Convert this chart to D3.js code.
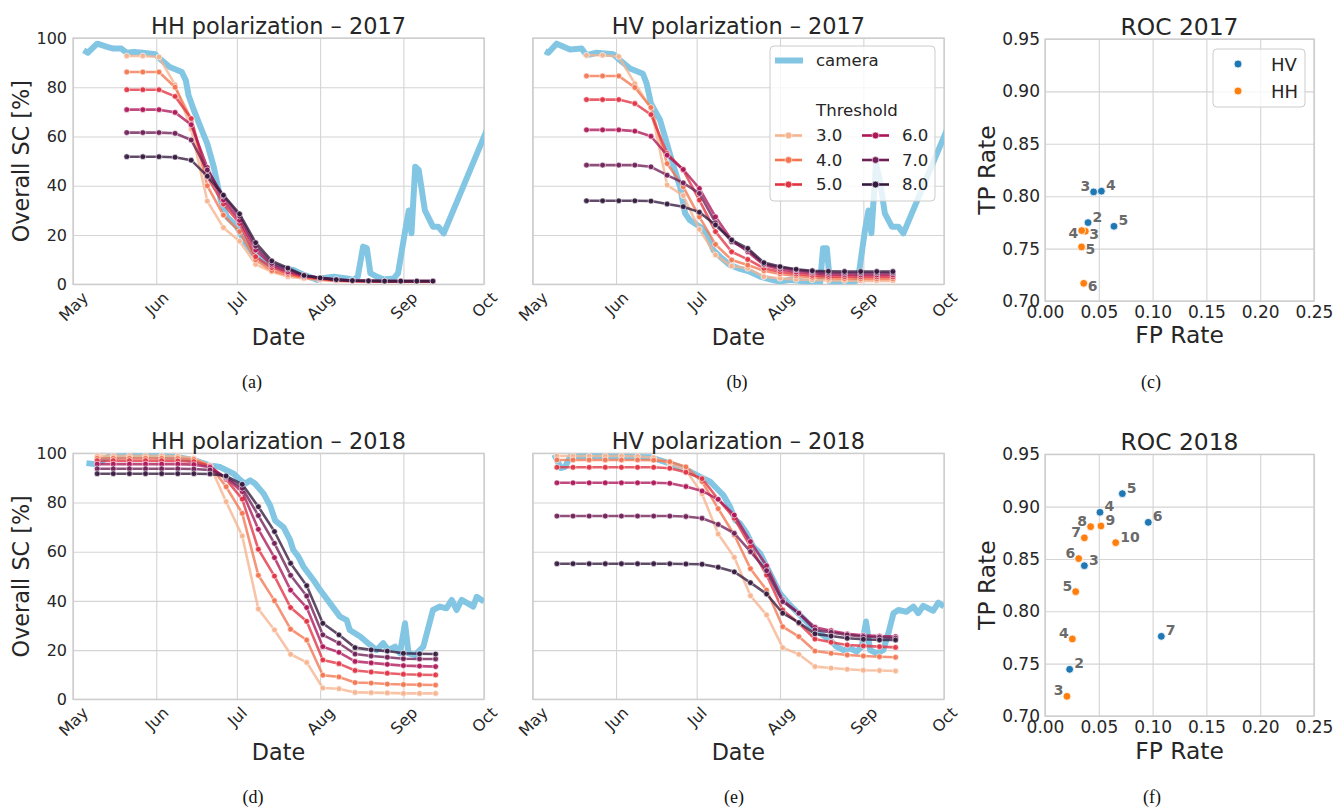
<!DOCTYPE html>
<html><head><meta charset="utf-8">
<script src="https://cdn.jsdelivr.net/npm/d3@7"></script>
<style>body{margin:0;background:#fff}</style>
</head><body><svg id="c" width="1336" height="808"></svg>
<script>
// ---------------- DATA ----------------
const threshLabels = ["3.0","4.0","5.0","6.0","7.0","8.0"];
const threshColors = ["#f6b48f","#f37651","#e13342","#ad1759","#701f57","#35193e"];
const monthTicks = ["May","Jun","Jul","Aug","Sep","Oct"];
const scTicks = [0,20,40,60,80,100];
const rocTicksX = [0,0.05,0.10,0.15,0.20,0.25];
const rocTicksY = [0.70,0.75,0.80,0.85,0.90,0.95];

const dates2017 = ["2017-05-21","2017-05-27","2017-06-02","2017-06-08","2017-06-14","2017-06-20","2017-06-26","2017-07-02","2017-07-08","2017-07-14","2017-07-20","2017-07-26","2017-08-01","2017-08-07","2017-08-13","2017-08-19","2017-08-25","2017-08-31","2017-09-06","2017-09-12"];
const dates2018 = ["2018-05-10","2018-05-16","2018-05-22","2018-05-28","2018-06-03","2018-06-09","2018-06-15","2018-06-21","2018-06-27","2018-07-03","2018-07-09","2018-07-15","2018-07-21","2018-07-27","2018-08-02","2018-08-08","2018-08-14","2018-08-20","2018-08-26","2018-09-01","2018-09-07","2018-09-13"];

// rows: thresholds 3.0 .. 8.0
const hh2017 = [
 [92.7,92.7,92.3,81.0,63.0,33.8,23.0,17.5,8.1,5.1,3.1,2.4,1.8,1.3,1.2,1.1,1.0,1.0,1.0,1.0],
 [86.2,86.2,86.2,80.0,67.0,40.0,28.1,21.4,9.9,5.5,3.8,2.7,2.0,1.5,1.3,1.2,1.1,1.1,1.1,1.1],
 [79.0,79.0,79.0,76.3,67.3,43.6,32.6,24.7,11.2,6.8,4.5,3.1,2.3,1.6,1.4,1.3,1.2,1.2,1.2,1.2],
 [70.9,70.9,70.9,69.8,64.8,47.4,34.2,26.0,13.9,7.8,5.1,3.5,2.6,1.8,1.5,1.4,1.3,1.3,1.3,1.3],
 [61.6,61.6,61.6,61.3,58.6,46.4,35.8,27.7,15.5,8.5,6.1,3.6,2.6,1.9,1.5,1.4,1.3,1.3,1.3,1.3],
 [51.8,51.8,51.8,51.6,50.4,43.9,36.2,28.6,16.9,9.5,6.6,3.6,2.6,1.9,1.5,1.4,1.3,1.3,1.3,1.3]
];
const hv2017 = [
 [93.0,93.0,92.5,81.5,71.5,40.3,36.0,22.3,11.9,7.4,6.5,3.1,2.4,2.0,1.8,1.6,1.5,1.4,1.4,1.4],
 [84.6,84.6,84.6,79.9,71.8,49.0,39.6,27.4,16.2,9.9,7.8,5.5,4.2,3.4,2.8,2.5,2.3,2.2,2.2,2.2],
 [75.0,75.0,75.0,73.4,68.9,53.1,46.4,34.2,21.4,13.2,10.1,6.5,5.1,4.2,3.6,3.2,3.1,3.0,3.0,3.0],
 [62.7,62.7,62.7,62.2,60.1,52.4,46.6,38.9,27.4,18.0,13.2,7.8,6.1,5.0,4.5,4.0,3.9,3.8,3.8,3.8],
 [48.4,48.4,48.4,48.4,47.7,44.3,41.2,36.9,25.0,17.3,13.9,8.2,6.9,5.8,5.1,4.7,4.6,4.6,4.6,4.6],
 [33.9,33.9,33.9,33.9,33.8,32.6,31.5,29.3,24.1,18.0,14.6,8.8,7.2,6.1,5.5,5.3,5.2,5.2,5.2,5.2]
];
const hh2018 = [
 [99.0,99.0,99.0,99.0,99.0,98.8,98.0,95.1,80.3,66.4,36.7,28.2,18.3,15.0,4.6,4.3,2.8,2.7,2.6,2.4,2.4,2.4],
 [98.0,98.0,98.0,98.0,98.0,97.9,97.5,95.0,86.4,75.6,50.4,40.1,28.5,24.1,9.8,9.1,6.8,6.6,6.2,6.0,5.9,5.8],
 [97.0,97.0,97.0,97.0,97.0,96.9,96.6,94.8,89.4,81.4,61.0,50.1,37.3,31.7,16.0,14.5,11.7,11.1,10.6,10.2,10.0,9.9],
 [95.6,95.6,95.6,95.6,95.6,95.6,95.4,94.3,90.0,84.4,69.1,57.6,44.4,37.3,21.4,19.1,15.4,14.8,14.2,13.7,13.5,13.3],
 [93.7,93.7,93.7,93.7,93.7,93.7,93.6,93.2,90.4,85.8,74.7,63.4,50.4,42.0,26.2,22.8,18.4,17.6,17.1,16.5,16.4,16.4],
 [91.7,91.7,91.7,91.7,91.7,91.7,91.7,91.6,90.8,87.4,78.3,68.2,55.3,46.2,30.9,26.2,21.0,20.1,19.6,18.7,18.5,18.4]
];
const hv2018 = [
 [98.9,98.9,98.9,98.9,98.9,98.8,98.2,95.9,93.2,83.5,67.2,57.7,42.1,34.3,21.0,18.3,13.3,12.7,12.2,11.8,11.7,11.5],
 [97.3,97.3,97.3,97.3,97.3,97.3,97.2,96.6,94.5,88.5,77.5,66.8,53.1,44.4,29.5,25.5,19.6,18.7,18.0,17.6,17.3,17.1],
 [94.3,94.3,94.3,94.3,94.3,94.3,94.3,93.9,92.3,89.7,81.3,73.6,62.1,50.5,36.3,30.9,24.5,23.2,22.1,21.7,21.4,21.1],
 [88.0,88.0,88.0,88.0,88.0,88.0,88.0,87.8,86.5,84.7,81.3,74.9,64.1,54.3,40.4,35.0,29.3,27.9,26.6,26.0,25.7,25.5],
 [74.5,74.5,74.5,74.5,74.5,74.5,74.5,74.5,74.3,73.6,71.1,67.5,60.0,52.3,39.7,35.0,28.2,27.2,26.2,25.5,25.2,24.9],
 [55.1,55.1,55.1,55.1,55.1,55.1,55.1,55.1,55.0,54.9,53.7,51.8,47.4,42.8,35.0,31.2,26.6,25.7,24.8,24.4,24.1,24.1]
];

// camera series: days after 1 May, snow cover %
const camHH2017Days = [4,5.5,9,12.7,15,18,20,22.6,26,30.6,33,36,40.5,42,43,45,47.4,50,52.4,55,57.3,61,63.5,67,72,78,82,86,91,92,97,102,104.5,106,108,109.4,110.7,113,115.6,119.4,121,123.7,125,126,127.4,128.7,131,134,136,138,154];
const camHH2017Vals = [95,94,97.7,96.4,95.7,95.7,94,94.3,94,93.4,91,88.2,86.2,82.8,76.8,70.7,64,57,47.7,34.2,27.4,23.4,18,12.6,8.5,6.5,5.8,3.8,1.8,2.4,3.1,2.4,1.8,3.1,15.3,14.6,4.5,3.1,2,2.4,4.5,22,30,20.7,47.7,46.4,30,23.4,23.4,20.7,62.5];
const camHV2017Days = [4.6,5.8,8.9,13.9,18.2,20,23.8,30,32.5,36.2,41,42.4,44,47.4,49.2,51.7,54.8,56.7,58.5,62.2,64.7,67.2,69.7,73.4,76.5,80.8,84.6,88.3,92,95.7,99.4,103,106.9,108,109.4,110.6,114,118,121,123.6,124.9,126,127.7,129.2,131,133.6,136,137.9,154];
const camHV2017Vals = [94.7,94,97.7,95.3,95.7,93,94,93.4,91,87.6,85.5,81.5,73.4,66.6,59.9,50.4,39.6,28.8,26,23.4,20.7,13.9,11.2,7.8,6.5,5.1,3.1,2,1.1,1.8,1.4,0.7,0.4,14.6,14.6,0.4,0.4,0.4,1.8,22,30,20.7,49,42,28.8,23.4,23.4,20.7,62.5];
const camHH2018Days = [5,9,13,20,30,38.7,45,51,54.8,57.3,59.8,62.2,64,66,67.8,71,73.4,75.3,78.4,80.8,82,83.9,85.8,89.5,92,95.7,99.4,101.9,103,106.9,110.6,113,115.5,117.4,119.9,121.7,123.6,124.9,127.3,130.4,134,136.6,139,141,142.8,144.7,149,150.3,153];
const camHH2018Vals = [96,95.5,98.5,99,99,98.5,97.2,95.1,94.4,93,91.7,89.2,87.6,89,87.6,83.5,78.7,72.6,69.9,64.8,60.7,58,53.9,48.5,44.4,39,33.6,32.2,28.2,25.5,22.1,20,22.8,20,21.4,18.7,30.9,18.7,18,21.4,36.3,37.7,37,40.4,36.3,40.4,37.7,41.7,39.7];
const camHV2018Days = [8,10.5,12,14,21.3,33.7,43.6,51,57.3,62.2,64.7,66,68.4,70.9,73.4,75.3,77.1,79.6,82,84.6,87,89.5,92,95.7,99.4,103,106.9,110.6,113,115.6,118,120.5,122.4,124,125.5,128,130.4,132.3,134.2,136,139,141.6,143.4,145.3,149,150.9,153];
const camHV2018Vals = [99.5,94,94.5,98.6,98.9,98.6,98.4,95.9,93.2,90.5,89.2,88.5,85.8,83,78.3,72.9,71.5,67.5,62.1,59.3,54,48.5,43,38.3,34.3,30.2,26.8,24.1,21.4,20,20.7,19.4,21.4,31.6,20,18.7,20,26.8,35,36.3,35.6,37.7,35,38,36,39.3,37.7];

// ROC points
const roc2017HVThr = ["2","3","4","5"];
const roc2017HVFp = [0.040,0.0452,0.0524,0.0641];
const roc2017HVTp = [0.7748,0.8041,0.8048,0.7713];
const roc2017HVSide = ["ur","ul","ur","ur"];
const roc2017HHThr = ["3","4","5","6"];
const roc2017HHFp = [0.0375,0.0341,0.034,0.036];
const roc2017HHTp = [0.7666,0.7672,0.7516,0.7169];
const roc2017HHSide = ["lr","ll","lr","lr"];

const roc2018HVThr = ["2","3","4","5","6","7"];
const roc2018HVFp = [0.0229,0.0366,0.0511,0.0719,0.096,0.1081];
const roc2018HVTp = [0.7446,0.8436,0.8946,0.9124,0.885,0.7761];
const roc2018HVSide = ["ur","ur","ur","ur","ur","ur"];
const roc2018HHThr = ["3","4","5","6","7","8","9","10"];
const roc2018HHFp = [0.0204,0.0254,0.0285,0.0313,0.0366,0.0424,0.052,0.0657];
const roc2018HHTp = [0.7188,0.7736,0.8188,0.8504,0.8702,0.8809,0.8815,0.8656];
const roc2018HHSide = ["ul","ul","ul","ul","ul","ul","ur","ur"];

// ---------------- DRAWING ----------------
const FONT = '"DejaVu Sans", Verdana, sans-serif';
const TXT = '#262626';
const GRID = '#d4d4d4';
const CAM = '#82c6e3';
const svg = d3.select('#c');
let clipId = 0;

function txt(g, x, y, s, size, opts = {}) {
  const t = g.append('text').attr('x', x).attr('y', y).text(s)
    .attr('font-family', opts.family || FONT).attr('font-size', size)
    .attr('fill', opts.fill || TXT).attr('text-anchor', opts.anchor || 'middle');
  if (opts.weight) t.attr('font-weight', opts.weight);
  if (opts.rotate) t.attr('transform', `rotate(${opts.rotate},${x},${y})`);
  if (opts.baseline) t.attr('dominant-baseline', opts.baseline);
  return t;
}

function styleAxis(a, fs) {
  a.select('.domain').remove();
  a.attr('font-family', FONT).attr('font-size', fs);
  a.selectAll('line').attr('stroke', GRID).attr('stroke-width', 1.1);
  a.selectAll('text').attr('fill', TXT);
}

function linePanel(o) {
  const {x0, x1, y0, y1, year} = o;
  const g = svg.append('g');
  const parse = d3.utcParse('%Y-%m-%d');
  const start = Date.UTC(year, 4, 1);
  const x = d3.scaleUtc().domain([new Date(start), new Date(Date.UTC(year, 9, 1))]).range([x0, x1]);
  const y = d3.scaleLinear().domain([0, 100]).range([y1, y0]);
  const monthDates = monthTicks.map((m, i) => new Date(Date.UTC(year, 4 + i, 1)));

  const ya = g.append('g').attr('transform', `translate(${x0},0)`)
    .call(d3.axisLeft(y).tickValues(scTicks).tickSize(-(x1 - x0)).tickPadding(6)
      .tickFormat(o.showY ? d3.format('d') : () => ''));
  styleAxis(ya, 16);

  const xa = g.append('g').attr('transform', `translate(0,${y1})`)
    .call(d3.axisBottom(x).tickValues(monthDates).tickSize(-(y1 - y0)).tickPadding(0)
      .tickFormat((d, i) => monthTicks[i]));
  styleAxis(xa, 16);
  xa.selectAll('text').attr('text-anchor', 'middle').attr('dy', '0.35em').attr('y', 0)
    .each(function () {
      const w = this.getComputedTextLength();
      const off = 6 + (w + 13) * 0.7071 / 2;
      d3.select(this).attr('transform', `translate(0,${off}) rotate(-45)`);
    });

  g.append('rect').attr('x', x0).attr('y', y0).attr('width', x1 - x0).attr('height', y1 - y0)
    .attr('fill', 'none').attr('stroke', '#cccccc').attr('stroke-width', 1.3);

  const cid = 'clip' + (clipId++);
  g.append('clipPath').attr('id', cid).append('rect')
    .attr('x', x0).attr('y', y0).attr('width', x1 - x0).attr('height', y1 - y0);
  const pg = g.append('g').attr('clip-path', `url(#${cid})`);

  const camLine = d3.line()
    .x((d, i) => x(new Date(start + o.camDays[i] * 864e5)))
    .y(d => y(d));
  pg.append('path').attr('d', camLine(o.camVals)).attr('fill', 'none')
    .attr('stroke', CAM).attr('stroke-width', 6).attr('stroke-linejoin', 'round');

  const ds = o.dates.map(parse);
  const ln = d3.line().x((d, i) => x(ds[i])).y(d => y(d));
  o.series.forEach((vals, k) => {
    const sg = pg.append('g');
    sg.append('path').attr('d', ln(vals)).attr('fill', 'none')
      .attr('stroke', threshColors[k]).attr('stroke-width', 2.6).attr('stroke-opacity', 0.78)
      .attr('stroke-linejoin', 'round');
    sg.selectAll('circle').data(vals).join('circle')
      .attr('cx', (d, i) => x(ds[i])).attr('cy', d => y(d)).attr('r', 2.9)
      .attr('fill', threshColors[k]).attr('stroke', '#fff').attr('stroke-width', 0.6)
      .attr('fill-opacity', 0.9);
  });

  txt(g, (x0 + x1) / 2, y0 - 4, o.title, 22.4);
  txt(g, (x0 + x1) / 2, y1 + 61, 'Date', 22.3);
  if (o.showY) txt(g, 29, (y0 + y1) / 2, 'Overall SC [%]', 22.3, {rotate: -90});
  txt(g, o.capX, o.capY, o.caption, 18, {family: '"Liberation Serif", "Times New Roman", serif', fill: '#111'});

  if (o.legend) {
    const L = g.append('g');
    L.append('rect').attr('x', 770).attr('y', 46).attr('width', 165).attr('height', 155).attr('rx', 4)
      .attr('fill', '#fff').attr('fill-opacity', 0.8).attr('stroke', '#cccccc').attr('stroke-width', 1);
    L.append('line').attr('x1', 775).attr('x2', 803).attr('y1', 60.5).attr('y2', 60.5)
      .attr('stroke', CAM).attr('stroke-width', 6);
    txt(L, 816, 60.5, 'camera', 16.6, {anchor: 'start', baseline: 'central'});
    txt(L, 816, 116, 'Threshold', 16.6, {anchor: 'start'});
    threshLabels.forEach((lab, k) => {
      const col = Math.floor(k / 3), row = k % 3;
      const lx = col ? 862 : 775, tx = col ? 902 : 816, ly = 135.5 + row * 24.5;
      L.append('line').attr('x1', lx).attr('x2', lx + 27).attr('y1', ly).attr('y2', ly)
        .attr('stroke', threshColors[k]).attr('stroke-width', 2.6);
      L.append('circle').attr('cx', lx + 13.5).attr('cy', ly).attr('r', 3.4)
        .attr('fill', threshColors[k]).attr('stroke', '#fff').attr('stroke-width', 0.6);
      txt(L, tx, ly, lab, 16.6, {anchor: 'start', baseline: 'central'});
    });
  }
}

function rocPanel(o) {
  const {x0, x1, y0, y1} = o;
  const g = svg.append('g');
  const x = d3.scaleLinear().domain([0, 0.25]).range([x0, x1]);
  const y = d3.scaleLinear().domain([0.70, 0.95]).range([y1, y0]);
  const ya = g.append('g').attr('transform', `translate(${x0},0)`)
    .call(d3.axisLeft(y).tickValues(rocTicksY).tickSize(-(x1 - x0)).tickPadding(5).tickFormat(d3.format('.2f')));
  styleAxis(ya, 17);
  const xa = g.append('g').attr('transform', `translate(0,${y1})`)
    .call(d3.axisBottom(x).tickValues(rocTicksX).tickSize(-(y1 - y0)).tickPadding(0).tickFormat(d3.format('.2f')));
  styleAxis(xa, 17);
  xa.selectAll('text').attr('y', 17).attr('dy', 0);
  g.append('rect').attr('x', x0).attr('y', y0).attr('width', x1 - x0).attr('height', y1 - y0)
    .attr('fill', 'none').attr('stroke', '#cccccc').attr('stroke-width', 1.3);

  const offs = {ur: [4.5, -1, 'start'], ul: [-3.5, -1, 'end'], lr: [4, 7.5, 'start'], ll: [-3.5, 7.5, 'end']};
  const groups = [
    {fp: o.hvFp, tp: o.hvTp, thr: o.hvThr, side: o.hvSide, color: '#1f77b4'},
    {fp: o.hhFp, tp: o.hhTp, thr: o.hhThr, side: o.hhSide, color: '#ff7f0e'}
  ];
  groups.forEach(s => {
    s.fp.forEach((f, i) => {
      g.append('circle').attr('cx', x(f)).attr('cy', y(s.tp[i])).attr('r', 3.9)
        .attr('fill', s.color).attr('stroke', '#fff').attr('stroke-width', 0.8);
    });
  });
  groups.forEach(s => {
    s.fp.forEach((f, i) => {
      const [dx, dy, an] = offs[s.side[i]];
      txt(g, x(f) + dx, y(s.tp[i]) + dy, s.thr[i], 14, {anchor: an, weight: 'bold', fill: '#6a6a6a'});
    });
  });

  txt(g, (x0 + x1) / 2, y0 - 4, o.title, 23.4);
  txt(g, (x0 + x1) / 2, o.xlabY, 'FP Rate', 23.4);
  txt(g, 995, (y0 + y1) / 2, 'TP Rate', 23.4, {rotate: -90});
  txt(g, o.capX, o.capY, o.caption, 18, {family: '"Liberation Serif", "Times New Roman", serif', fill: '#111'});

  if (o.legend) {
    const L = g.append('g');
    L.append('rect').attr('x', 1213).attr('y', 49).attr('width', 92).attr('height', 58).attr('rx', 4)
      .attr('fill', '#fff').attr('fill-opacity', 0.8).attr('stroke', '#cccccc').attr('stroke-width', 1);
    [['HV', '#1f77b4', 64], ['HH', '#ff7f0e', 91]].forEach(([lab, c, ly]) => {
      L.append('circle').attr('cx', 1238).attr('cy', ly).attr('r', 4).attr('fill', c)
        .attr('stroke', '#fff').attr('stroke-width', 0.8);
      txt(L, 1271, ly, lab, 18, {anchor: 'start', baseline: 'central'});
    });
  }
}

linePanel({x0: 73, x1: 484, y0: 38, y1: 284.3, year: 2017, dates: dates2017, series: hh2017,
  camDays: camHH2017Days, camVals: camHH2017Vals, title: 'HH polarization – 2017', showY: true,
  caption: '(a)', capX: 252, capY: 388});
linePanel({x0: 532.7, x1: 944, y0: 38, y1: 284.3, year: 2017, dates: dates2017, series: hv2017,
  camDays: camHV2017Days, camVals: camHV2017Vals, title: 'HV polarization – 2017', showY: false,
  legend: true, caption: '(b)', capX: 737, capY: 388});
linePanel({x0: 73, x1: 484, y0: 453.3, y1: 699.3, year: 2018, dates: dates2018, series: hh2018,
  camDays: camHH2018Days, camVals: camHH2018Vals, title: 'HH polarization – 2018', showY: true,
  caption: '(d)', capX: 253, capY: 803});
linePanel({x0: 532.7, x1: 944, y0: 453.3, y1: 699.3, year: 2018, dates: dates2018, series: hv2018,
  camDays: camHV2018Days, camVals: camHV2018Vals, title: 'HV polarization – 2018', showY: false,
  caption: '(e)', capX: 734, capY: 803});
rocPanel({x0: 1045, x1: 1314, y0: 39, y1: 301, title: 'ROC 2017', xlabY: 343,
  hvFp: roc2017HVFp, hvTp: roc2017HVTp, hvThr: roc2017HVThr, hvSide: roc2017HVSide,
  hhFp: roc2017HHFp, hhTp: roc2017HHTp, hhThr: roc2017HHThr, hhSide: roc2017HHSide,
  legend: true, caption: '(c)', capX: 1151, capY: 388});
rocPanel({x0: 1045, x1: 1314, y0: 454.3, y1: 716, title: 'ROC 2018', xlabY: 759,
  hvFp: roc2018HVFp, hvTp: roc2018HVTp, hvThr: roc2018HVThr, hvSide: roc2018HVSide,
  hhFp: roc2018HHFp, hhTp: roc2018HHTp, hhThr: roc2018HHThr, hhSide: roc2018HHSide,
  caption: '(f)', capX: 1152, capY: 803});
</script>
</body></html>
